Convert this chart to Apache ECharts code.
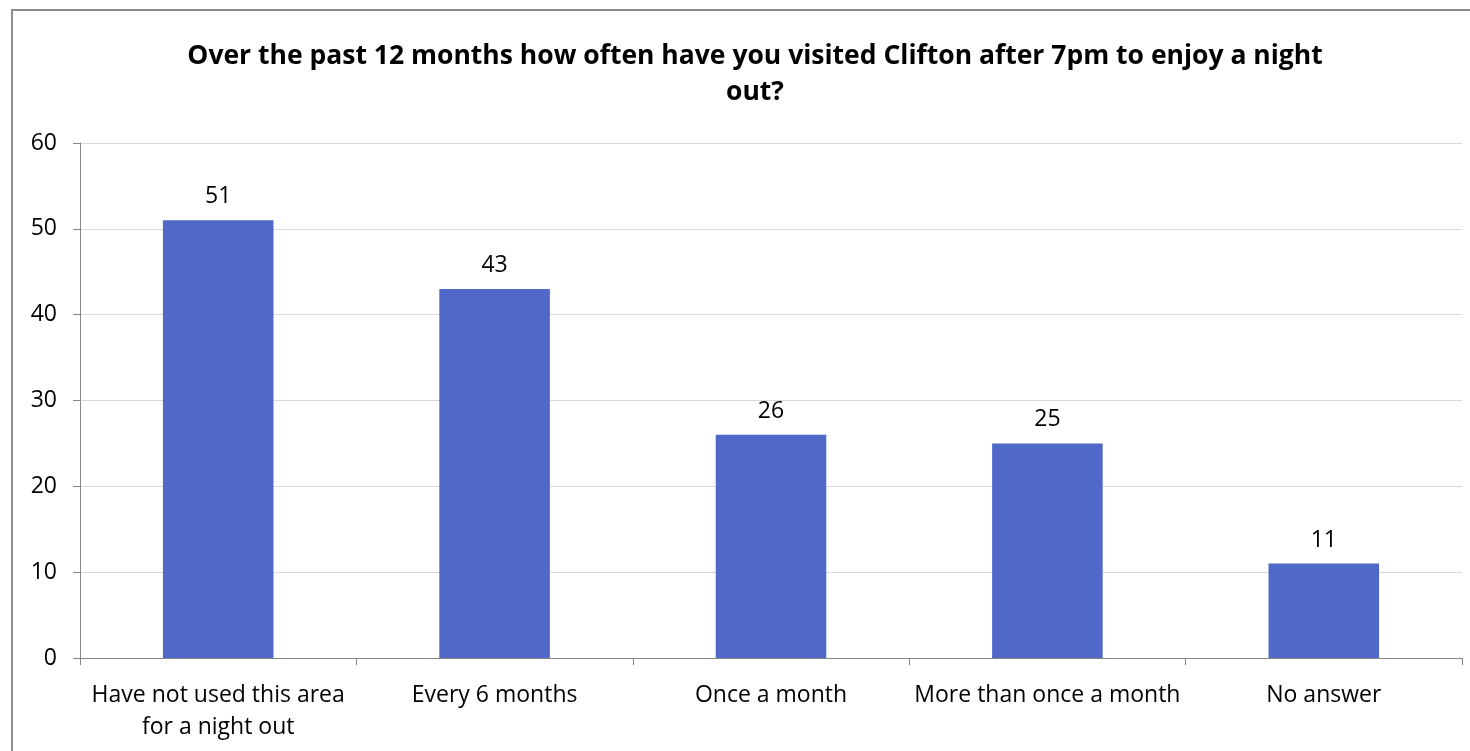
<!DOCTYPE html>
<html><head><meta charset="utf-8">
<script src="https://cdn.jsdelivr.net/npm/echarts@6/dist/echarts.min.js"></script>
<style>html,body{margin:0;padding:0;background:#fff}#c{width:1470px;height:751px}</style>
</head><body><div id="c"></div>
<script>
const categories = ['Have not used this area\nfor a night out', 'Every 6 months', 'Once a month', 'More than once a month', 'No answer'];
const values = [51, 43, 26, 25, 11];
const titleText = 'Over the past 12 months how often have you visited Clifton after 7pm to enjoy a night\nout?';
const FONT = 'Open Sans';
const chart = echarts.init(document.getElementById('c'));
chart.setOption({
  animation: false,
  backgroundColor: '#fff',
  graphic: [{type:'rect', shape:{x:12, y:10, width:1500, height:800}, style:{fill:'none', stroke:'#8c8c8c', lineWidth:2}, z:-1}],
  title: {text: titleText, left: 750, textAlign: 'center', top: 33, textStyle:{fontFamily: FONT, fontSize: 26.5, fontWeight:'bold', color:'#000', lineHeight: 36}},
  grid: {left: 80, right: 8, top: 143, bottom: 93},
  xAxis: {type:'category', data: categories,
    axisLine:{lineStyle:{color:'#868686', width:1}},
    axisTick:{show:true, alignWithLabel:false, length:7, lineStyle:{color:'#868686'}},
    axisLabel:{fontFamily: FONT, fontSize: 23, color:'#000', lineHeight: 32, margin: 21, interval:0}},
  yAxis: {type:'value', min:0, max:60, interval:10,
    axisLine:{show:true, lineStyle:{color:'#868686'}},
    axisTick:{show:true, length:7, lineStyle:{color:'#868686'}},
    splitLine:{lineStyle:{color:'#d9d9d9'}},
    axisLabel:{fontFamily: FONT, fontSize: 23, color:'#000', margin: 23}},
  series: [{type:'bar', data: values, barWidth:'40%', itemStyle:{color:'#5068C8'},
    label:{show:true, position:'top', distance: 12, fontFamily: FONT, fontSize: 23, color:'#000'}}]
});
</script></body></html>
